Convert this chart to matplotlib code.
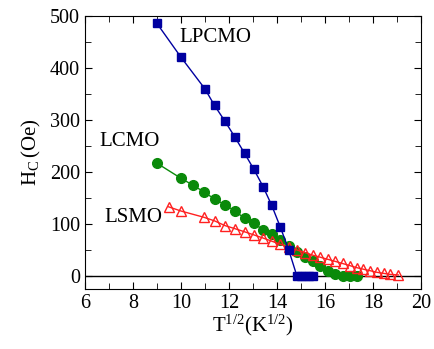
import numpy as np
import matplotlib
matplotlib.use('Agg')
import matplotlib.pyplot as plt
from matplotlib.ticker import MultipleLocator

# data: x = sqrt(T)
lpcmo_x = [9.0, 10.0, 11.0, 11.40, 11.83, 12.25, 12.65, 13.04, 13.42, 13.78, 14.14, 14.49,
           14.83, 15.0, 15.17, 15.33, 15.49]
lpcmo_y = [486, 421, 360, 328, 298, 267, 236, 205, 172, 136, 94, 50,
           0, 0, 0, 0, 0]

lcmo_x = [9.0, 10.0, 10.49, 10.95, 11.40, 11.83, 12.25, 12.65, 13.04, 13.42, 13.78, 14.14,
          14.49, 14.83, 15.17, 15.49, 15.81, 16.12, 16.43, 16.73, 17.03, 17.32]
lcmo_y = [217, 188, 175, 162, 148, 137, 125, 111, 101, 89, 80, 70,
          58, 47, 37, 29, 19, 10, 3, 0, 0, 0]

lsmo_x = [9.49, 10.0, 10.95, 11.40, 11.83, 12.25, 12.65, 13.04, 13.42, 13.78, 14.14, 14.49,
          14.83, 15.17, 15.49, 15.81, 16.12, 16.43, 16.73, 17.03, 17.32, 17.6, 17.89, 18.17,
          18.44, 18.71, 19.05]
lsmo_y = [133, 125, 113, 106, 97, 91, 85, 79, 73, 67, 61, 55,
          50, 45, 40, 36, 32, 28, 24, 20, 16, 13, 10, 7,
          5, 3, 2]

plt.rcParams['font.family'] = 'Liberation Serif'
plt.rcParams['mathtext.fontset'] = 'custom'
plt.rcParams['mathtext.rm'] = 'Liberation Serif'
plt.rcParams['mathtext.it'] = 'Liberation Serif'

fig = plt.figure(figsize=(4.35, 3.49), dpi=100)
ax = fig.add_axes([0.195, 0.172, 0.773, 0.782])

ax.axhline(0, color='black', linewidth=1.0, zorder=1)

ax.plot(lpcmo_x, lpcmo_y, '-s', color='#0000a0', linewidth=1.0, markersize=6, zorder=3)
ax.plot(lcmo_x, lcmo_y, '-o', color='#0a8a0a', linewidth=1.0, markersize=7, zorder=2)
ax.plot(lsmo_x, lsmo_y, '-^', color='#ff2020', linewidth=1.0, markersize=7,
        markerfacecolor='none', markeredgewidth=1.0, zorder=2)

ax.text(9.95, 458, 'LPCMO', fontsize=15, va='center')
ax.text(6.6, 258, 'LCMO', fontsize=15, va='center')
ax.text(6.83, 112, 'LSMO', fontsize=15, va='center')

ax.set_xlim(6, 20)
ax.set_ylim(-25, 500)
ax.xaxis.set_major_locator(MultipleLocator(2))
ax.xaxis.set_minor_locator(MultipleLocator(1))
ax.yaxis.set_major_locator(MultipleLocator(100))
ax.yaxis.set_minor_locator(MultipleLocator(50))
ax.tick_params(which='both', direction='in', top=True, right=True, labelsize=14.5)
ax.tick_params(which='major', length=5)
ax.tick_params(which='minor', length=4)

ax.set_xlabel(r'T$^{1/2}$(K$^{1/2}$)', fontsize=15, labelpad=0)
ax.set_ylabel(r'H$_\mathregular{C}$$\,$(Oe)', fontsize=15, labelpad=5)

fig.savefig('out.png', dpi=100)
